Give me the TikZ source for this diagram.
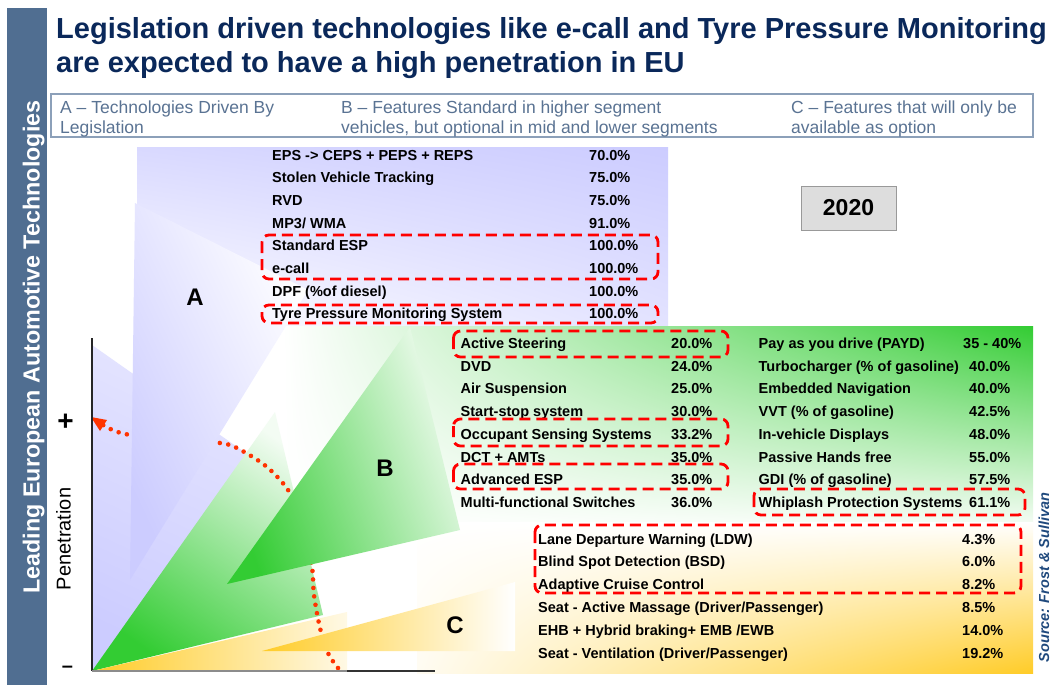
\documentclass[tikz,border=0pt]{standalone}
\usepackage{fontspec}
\setmainfont{Liberation Sans}
\usetikzlibrary{shadings}
\definecolor{lav}{RGB}{204,204,255}
\definecolor{grn}{RGB}{51,204,51}
\definecolor{org}{RGB}{255,204,40}
\definecolor{sidebar}{RGB}{80,110,145}
\definecolor{titleblue}{RGB}{10,40,90}
\definecolor{hdrtext}{RGB}{90,115,147}
\definecolor{hdrline}{RGB}{140,160,185}
\definecolor{srcblue}{RGB}{31,73,125}
\definecolor{dashred}{RGB}{255,0,0}
\definecolor{dotred}{RGB}{255,51,0}
\definecolor{boxgray}{RGB}{221,221,221}
\begin{document}
\begin{tikzpicture}[x=1pt,y=-1pt,
  tabtxt/.style={anchor=base west, inner sep=0pt, font=\fontsize{14.5}{17}\selectfont\bfseries},
  hdrtxt/.style={anchor=base west, inner sep=0pt, text=hdrtext, font=\fontsize{17.5}{20}\selectfont},
  titletxt/.style={anchor=base west, inner sep=0pt, text=titleblue, font=\fontsize{29}{34}\selectfont\bfseries},
  bigletter/.style={inner sep=0pt, font=\fontsize{24}{28}\selectfont\bfseries},
  redbox/.style={draw=dashred, line width=2.8pt, dash pattern=on 11pt off 6pt, rounded corners=7pt},
  arcdots/.style={draw=dotred, line width=4.6pt, line cap=round, dash pattern=on 0pt off 8.5pt},
  axisline/.style={line width=1.2pt},
]
\useasboundingbox (0,0) rectangle (1059,685);
\fill[white] (0,0) rectangle (1059,685);

% sidebar
\fill[sidebar] (7,8) rectangle (47,685);
\node[rotate=90, anchor=base, inner sep=0pt, text=white, font=\fontsize{23.3}{26}\selectfont\bfseries] (side) at (39.5,347) {Leading European Automotive Technologies};

% title
\node[titletxt] (t1) at (56,38) {Legislation driven technologies like e-call and Tyre Pressure Monitoring};
\node[titletxt] (t2) at (56,72) {are expected to have a high penetration in EU};

% header box
\draw[hdrline, line width=1.3pt] (51,94) rectangle (1033,137);
\node[hdrtxt] (hA1) at (60,113) {A – Technologies Driven By};
\node[hdrtxt] (hA2) at (60,133) {Legislation};
\node[hdrtxt] (hB1) at (341,113) {B – Features Standard in higher segment};
\node[hdrtxt] (hB2) at (341,133) {vehicles, but optional in mid and lower segments};
\node[hdrtxt] (hC1) at (791,113) {C – Features that will only be};
\node[hdrtxt] (hC2) at (791,133) {available as option};

% table backgrounds
\shade[upper left=lav!75, upper right=lav, lower left=white, lower right=lav!55] (137,147) rectangle (668,327);
\shade[upper left=white, upper right=grn, lower left=white, lower right=grn!6] (283,326) rectangle (1033,522);
\shade[upper left=white, upper right=white, lower left=org!6, lower right=org] (417,522) rectangle (1033,673);

% big fans from origin
\coordinate (O) at (92,671);
\shade[top color=lav!50, bottom color=lav, shading angle=-25] (O) -- (92,345) -- (260,463) -- cycle;
\shade[top color=grn!6, bottom color=grn, shading angle=-35] (O) -- (275,412) -- (323,615) -- cycle;
\shade[left color=org, right color=org!12] (O) -- (347,612) -- (347,671) -- cycle;

% dotted arc
\draw[arcdots] plot[smooth, tension=0.55] coordinates {(338,668) (328,653) (320,628) (314,595) (312,567) (304,528) (290,493) (267,467) (237,448) (220,443) (176,437) (132,435) (115,431) (103,425)};
\fill[dotred] (91,417) -- (107,420) -- (100,431) -- cycle;

% smaller triangles
\shade[top color=white, bottom color=lav, shading angle=-65] (135,203) -- (130,580) -- (308,290) -- cycle;
\shade[top color=grn!8, bottom color=grn, shading angle=-70] (227,584) -- (460,530) -- (410,327) -- cycle;
\shade[left color=org, right color=white] (262,651) -- (515,582) -- (515,651) -- cycle;

% axes
\coordinate (Ytop) at (92,338);
\coordinate (Xmid) at (347,671);
\coordinate (Xend) at (435,671);
\draw[axisline, black!85] (Ytop) -- (O);
\draw[axisline, black!45] (O) -- (Xmid);
\draw[axisline, black!80] (Xmid) -- (Xend);
\node[inner sep=0pt, font=\fontsize{28}{30}\selectfont\bfseries] (plus) at (65.5,422.5) {+};
\node[inner sep=0pt, font=\fontsize{20}{24}\selectfont\bfseries] (minus) at (67.5,669) {–};
\node[rotate=90, anchor=base, inner sep=0pt, font=\fontsize{20}{24}\selectfont] (pen) at (70.5,539) {Penetration};

% big letters
\node[bigletter] (LA) at (195,297) {A};
\node[bigletter] (LB) at (385,468) {B};
\node[bigletter] (LC) at (455,625) {C};

% 2020 box
\node[draw=black!40, fill=boxgray, line width=1pt, minimum width=95pt, minimum height=44pt, inner sep=0pt, font=\fontsize{23}{26}\selectfont\bfseries] (yr) at (848.5,208) {2020};

% table A
\node[tabtxt] (nA1) at (272,160.0) {EPS -> CEPS + PEPS + REPS};
\node[tabtxt] (vA1) at (589,160.0) {70.0\%};
\node[tabtxt] (nA2) at (272,182.7) {Stolen Vehicle Tracking};
\node[tabtxt] (vA2) at (589,182.7) {75.0\%};
\node[tabtxt] (nA3) at (272,205.4) {RVD};
\node[tabtxt] (vA3) at (589,205.4) {75.0\%};
\node[tabtxt] (nA4) at (272,228.1) {MP3/ WMA};
\node[tabtxt] (vA4) at (589,228.1) {91.0\%};
\node[tabtxt] (nA5) at (272,250.8) {Standard ESP};
\node[tabtxt] (vA5) at (589,250.8) {100.0\%};
\node[tabtxt] (nA6) at (272,273.5) {e-call};
\node[tabtxt] (vA6) at (589,273.5) {100.0\%};
\node[tabtxt] (nA7) at (272,296.2) {DPF (\%of diesel)};
\node[tabtxt] (vA7) at (589,296.2) {100.0\%};
\node[tabtxt] (nA8) at (272,318.9) {Tyre Pressure Monitoring System};
\node[tabtxt] (vA8) at (589,318.9) {100.0\%};

% table B left
\node[tabtxt] (nB1) at (460.5,348.3) {Active Steering};
\node[tabtxt] (vB1) at (671,348.3) {20.0\%};
\node[tabtxt] (nB2) at (460.5,371.1) {DVD};
\node[tabtxt] (vB2) at (671,371.1) {24.0\%};
\node[tabtxt] (nB3) at (460.5,393.8) {Air Suspension};
\node[tabtxt] (vB3) at (671,393.8) {25.0\%};
\node[tabtxt] (nB4) at (460.5,416.6) {Start-stop system};
\node[tabtxt] (vB4) at (671,416.6) {30.0\%};
\node[tabtxt] (nB5) at (460.5,439.4) {Occupant Sensing Systems};
\node[tabtxt] (vB5) at (671,439.4) {33.2\%};
\node[tabtxt] (nB6) at (460.5,462.2) {DCT + AMTs};
\node[tabtxt] (vB6) at (671,462.2) {35.0\%};
\node[tabtxt] (nB7) at (460.5,484.9) {Advanced ESP};
\node[tabtxt] (vB7) at (671,484.9) {35.0\%};
\node[tabtxt] (nB8) at (460.5,507.7) {Multi-functional Switches};
\node[tabtxt] (vB8) at (671,507.7) {36.0\%};

% table B right
\node[tabtxt] (nR1) at (758.5,348.3) {Pay as you drive (PAYD)};
\node[tabtxt] (vR1) at (963,348.3) {35 - 40\%};
\node[tabtxt] (nR2) at (758.5,371.1) {Turbocharger (\% of gasoline)};
\node[tabtxt] (vR2) at (969,371.1) {40.0\%};
\node[tabtxt] (nR3) at (758.5,393.8) {Embedded Navigation};
\node[tabtxt] (vR3) at (969,393.8) {40.0\%};
\node[tabtxt] (nR4) at (758.5,416.6) {VVT (\% of gasoline)};
\node[tabtxt] (vR4) at (969,416.6) {42.5\%};
\node[tabtxt] (nR5) at (758.5,439.4) {In-vehicle Displays};
\node[tabtxt] (vR5) at (969,439.4) {48.0\%};
\node[tabtxt] (nR6) at (758.5,462.2) {Passive Hands free};
\node[tabtxt] (vR6) at (969,462.2) {55.0\%};
\node[tabtxt] (nR7) at (758.5,484.9) {GDI (\% of gasoline)};
\node[tabtxt] (vR7) at (969,484.9) {57.5\%};
\node[tabtxt] (nR8) at (758.5,507.7) {Whiplash Protection Systems};
\node[tabtxt] (vR8) at (969,507.7) {61.1\%};

% table C
\node[tabtxt] (nC1) at (538,544.0) {Lane Departure Warning (LDW)};
\node[tabtxt] (vC1) at (962,544.0) {4.3\%};
\node[tabtxt] (nC2) at (538,566.8) {Blind Spot Detection (BSD)};
\node[tabtxt] (vC2) at (962,566.8) {6.0\%};
\node[tabtxt] (nC3) at (538,589.6) {Adaptive Cruise Control};
\node[tabtxt] (vC3) at (962,589.6) {8.2\%};
\node[tabtxt] (nC4) at (538,612.4) {Seat - Active Massage (Driver/Passenger)};
\node[tabtxt] (vC4) at (962,612.4) {8.5\%};
\node[tabtxt] (nC5) at (538,635.2) {EHB + Hybrid braking+ EMB /EWB};
\node[tabtxt] (vC5) at (962,635.2) {14.0\%};
\node[tabtxt] (nC6) at (538,658.0) {Seat - Ventilation (Driver/Passenger)};
\node[tabtxt] (vC6) at (962,658.0) {19.2\%};

% dashed highlight boxes
\draw[redbox] (262,235) rectangle (658,279);
\draw[redbox] (262,305) rectangle (658,323);
\draw[redbox] (453.5,331) rectangle (728,357);
\draw[redbox] (453.5,419) rectangle (728,446);
\draw[redbox] (453.5,464) rectangle (728,489);
\draw[redbox] (754,489) rectangle (1025,515);
\draw[redbox] (535,525) rectangle (1021,593);

% source
\node[rotate=90, anchor=base, inner sep=0pt, text=srcblue, font=\fontsize{14.5}{17}\selectfont\bfseries\itshape] (src) at (1049,577.5) {Source: Frost \& Sullivan};
\end{tikzpicture}
\end{document}
